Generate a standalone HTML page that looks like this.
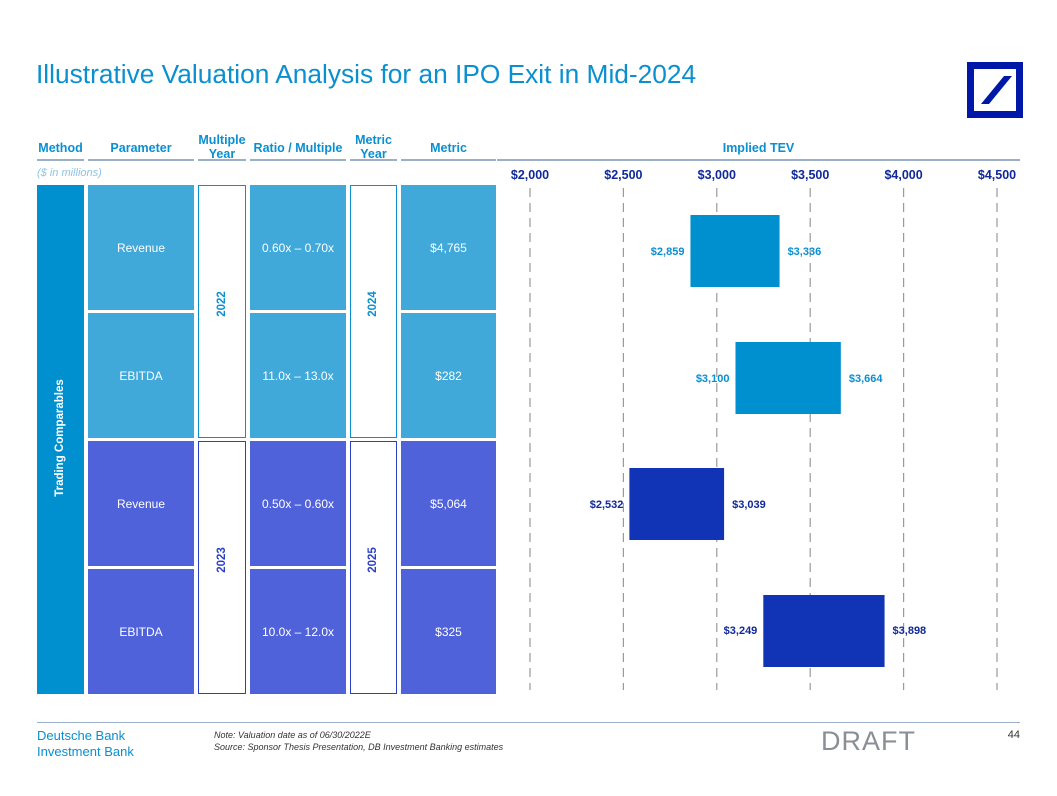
<!DOCTYPE html>
<html><head><meta charset="utf-8">
<style>
body{margin:0;width:1057px;height:796px;background:#fff;font-family:"Liberation Sans",Arial,sans-serif;position:relative;overflow:hidden}
.a{position:absolute}
.h{color:#0a8fd0;font-weight:bold;font-size:12.5px;text-align:center;line-height:14px}
.ul{position:absolute;top:159px;height:2px;background:#9bb0c8}
</style></head><body>
<div class="a" style="left:36px;top:59px;font-size:26.3px;color:#0a8fd0">Illustrative Valuation Analysis for an IPO Exit in Mid-2024</div>
<svg class="a" style="left:967px;top:62px" width="56" height="56"><rect x="3.5" y="3.5" width="49" height="49" fill="none" stroke="#0018a8" stroke-width="7"/><polygon points="14,42 22,42 45,14 37,14" fill="#0018a8"/></svg>

<div class="a h" style="left:37px;top:141px;width:47px">Method</div>
<div class="a h" style="left:88px;top:141px;width:106px">Parameter</div>
<div class="a h" style="left:194px;top:133px;width:56px">Multiple<br>Year</div>
<div class="a h" style="left:250px;top:141px;width:96px">Ratio / Multiple</div>
<div class="a h" style="left:346px;top:133px;width:55px">Metric<br>Year</div>
<div class="a h" style="left:401px;top:141px;width:95px">Metric</div>
<div class="a h" style="left:497px;top:141px;width:523px">Implied TEV</div>
<div class="ul" style="left:37px;width:47px"></div><div class="ul" style="left:88px;width:106px"></div><div class="ul" style="left:198px;width:48px"></div><div class="ul" style="left:250px;width:96px"></div><div class="ul" style="left:350px;width:47px"></div><div class="ul" style="left:401px;width:95px"></div><div class="ul" style="left:497px;width:523px"></div>
<div class="a" style="left:37px;top:167px;font-size:11px;font-style:italic;color:#8cc4e6">($ in millions)</div>

<div class="a" style="left:37px;top:185px;width:47px;height:509px;background:#0090d0"></div>
<div class="a" style="left:0px;top:432px;width:120px;text-align:center;color:#fff;transform:rotate(-90deg);font-weight:bold;font-size:11.5px;white-space:nowrap">Trading Comparables</div>

<div id="table"></div>
<svg class="a" id="chart" style="left:497px;top:160px" width="540" height="540"></svg>

<div class="a" style="left:37px;top:722px;width:983px;height:1px;background:#9bb0c8"></div>
<div class="a" style="left:37px;top:728px;font-size:13px;color:#0a8fd0;line-height:16px">Deutsche Bank<br>Investment Bank</div>
<div class="a" style="left:214px;top:729px;font-size:9px;font-style:italic;color:#333;line-height:12px">Note: Valuation date as of 06/30/2022E<br>Source: Sponsor Thesis Presentation, DB Investment Banking estimates</div>
<div class="a" style="left:821px;top:726px;font-size:27px;color:#8a8f96;letter-spacing:1px">DRAFT</div>
<div class="a" style="left:1000px;top:729px;width:20px;text-align:right;font-size:11px;color:#333">44</div>

<script>
const params=["Revenue","EBITDA","Revenue","EBITDA"];
const ratios=["0.60x – 0.70x","11.0x – 13.0x","0.50x – 0.60x","10.0x – 12.0x"];
const metrics=["$4,765","$282","$5,064","$325"];
const lows=[2859,3100,2532,3249];
const highs=[3336,3664,3039,3898];
const ticks=[2000,2500,3000,3500,4000,4500];
const multYears=["2022","2023"];
const metricYears=["2024","2025"];

const rowTop=[185,313,441,569], rowH=125;
const t=document.getElementById('table');
function div(css,txt){const d=document.createElement('div');d.style.cssText=css;if(txt!==undefined)d.textContent=txt;t.appendChild(d);return d;}
for(let i=0;i<params.length;i++){
  const bg=i<2?'#40a9da':'#5062da';
  const y=rowTop[i];
  const c1=div(`position:absolute;left:88px;top:${y}px;width:106px;height:${rowH}px;background:${bg};color:#fff;font-size:12px;text-align:center;padding-top:56px;box-sizing:border-box`,params[i]);
  
  
  const c2=div(`position:absolute;left:250px;top:${y}px;width:96px;height:${rowH}px;background:${bg};color:#fff;font-size:12px;text-align:center;padding-top:56px;box-sizing:border-box`,ratios[i]);
  
  
  const c3=div(`position:absolute;left:401px;top:${y}px;width:95px;height:${rowH}px;background:${bg};color:#fff;font-size:12px;text-align:center;padding-top:56px;box-sizing:border-box`,metrics[i]);
  
  
}
for(let g=0;g<2;g++){
  const y=g?441:185, h=253;
  const col=g?'#2a40c8':'#0a8fd0';
  const a=div(`position:absolute;left:198px;top:${y}px;width:48px;height:${h}px;background:#fff;border:1.5px solid ${col};box-sizing:border-box`);
  
  
  const at=div(`position:absolute;left:192px;top:${y+113}px;width:60px;text-align:center;transform:rotate(-90deg);color:${col};font-weight:bold;font-size:11.5px`,multYears[g]);
  
  
  const b=div(`position:absolute;left:350px;top:${y}px;width:47px;height:${h}px;background:#fff;border:1.5px solid ${col};box-sizing:border-box`);
  
  
  const bt=div(`position:absolute;left:343px;top:${y+113}px;width:60px;text-align:center;transform:rotate(-90deg);color:${col};font-weight:bold;font-size:11.5px`,metricYears[g]);
  
  
}

const svg=document.getElementById('chart'),NS='http://www.w3.org/2000/svg';
const x=v=>33+(v-2000)*(467/2500);
function el(tag,at,txt){const e=document.createElementNS(NS,tag);for(const k in at)e.setAttribute(k,at[k]);if(txt!==undefined)e.textContent=txt;svg.appendChild(e);return e;}
ticks.forEach(v=>{
  const l=el('line',{x1:x(v),x2:x(v),y1:28,y2:530,stroke:'#9a9a9a','stroke-width':1.2,'stroke-dasharray':'9,6'});
  
  
  const tx=el('text',{x:x(v),y:19,'text-anchor':'middle','font-size':12.5,'font-weight':'bold',fill:'#10289a','font-family':'Liberation Sans, sans-serif'},'$'+v.toLocaleString('en-US'));
  
  
});
const barTop=[55,182,308,435];
for(let i=0;i<lows.length;i++){
  const fill=i<2?'#0090d0':'#1133b5', lc=i<2?'#0a8fd0':'#10289a';
  const r=el('rect',{x:x(lows[i]),y:barTop[i],width:x(highs[i])-x(lows[i]),height:72,fill:fill});
  
  
  const ly=i==3?barTop[i]+39:barTop[i]+40;
  const a=el('text',{x:x(lows[i])-6,y:ly,'text-anchor':'end','font-size':11,'font-weight':'bold',fill:lc,'font-family':'Liberation Sans, sans-serif'},'$'+lows[i].toLocaleString('en-US'));
  
  
  const b=el('text',{x:x(highs[i])+8,y:ly,'text-anchor':'start','font-size':11,'font-weight':'bold',fill:lc,'font-family':'Liberation Sans, sans-serif'},'$'+highs[i].toLocaleString('en-US'));
  
  
}
</script>
</body></html>
